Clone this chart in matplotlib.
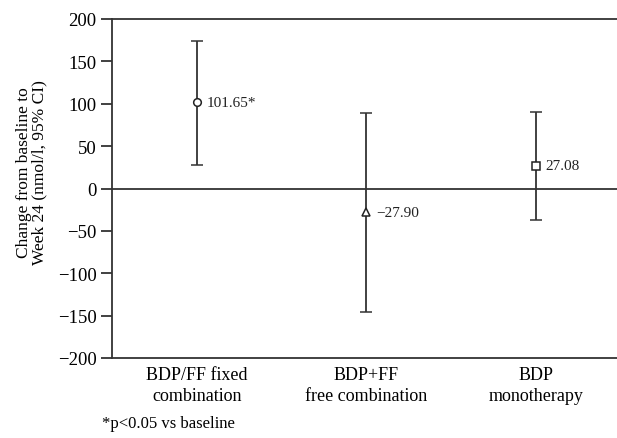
import numpy as np
import matplotlib.pyplot as plt

plt.rcParams['font.family'] = ['Liberation Serif', 'DejaVu Serif']

groups = ["BDP/FF fixed\ncombination", "BDP+FF\nfree combination", "BDP\nmonotherapy"]
means = [101.65, -27.90, 27.08]
lower = [27.5, -146.3, -37.4]
upper = [173.5, 89.3, 90.5]
labels = ["101.65*", "\u221227.90", "27.08"]
markers = ["o", "^", "s"]
yticks = [-200, -150, -100, -50, 0, 50, 100, 150, 200]

fig = plt.figure(figsize=(6.17, 4.39), dpi=100)
ax = fig.add_axes([112/617, 1 - 359/439, 1 - 112/617, 339/439])

x = np.arange(len(groups))
ax.axhline(0, color="#333333", lw=1.3, zorder=1)
for i in range(len(groups)):
    m = means[i]
    ax.errorbar(x[i], m, yerr=[[m - lower[i]], [upper[i] - m]], fmt=markers[i],
                color="#222222", mfc="white", mec="#222222", ms=5.5, mew=1.1,
                ecolor="#333333", elinewidth=1.3, capsize=4, capthick=1.3, zorder=3)
    ax.text(x[i] + 0.06, m, labels[i], va="center", ha="left", fontsize=11, color="#222222")

ax.set_xlim(-0.5, 2.48)
ax.set_ylim(-200, 200)
ax.set_yticks(yticks)
ax.set_yticklabels([str(t).replace("-", "\u2212") for t in yticks], fontsize=13.5)
ax.set_xticks(x)
ax.set_xticklabels(groups, fontsize=13, linespacing=1.25)
ax.tick_params(axis="x", length=0, pad=6)
ax.tick_params(axis="y", length=8, width=1.3, color="#333333", pad=3)
for s in ["top", "bottom", "left"]:
    ax.spines[s].set_linewidth(1.3)
    ax.spines[s].set_color("#333333")
ax.spines["right"].set_visible(False)
ax.set_ylabel("Change from baseline to\nWeek 24 (nmol/l, 95% CI)", fontsize=12.5, linespacing=1.0)
ax.yaxis.set_label_coords(-0.127, 0.549)

fig.text(102/617, 1 - 424/439, "*p<0.05 vs baseline", fontsize=12, va="center", ha="left")

fig.savefig("out.png", dpi=100)
